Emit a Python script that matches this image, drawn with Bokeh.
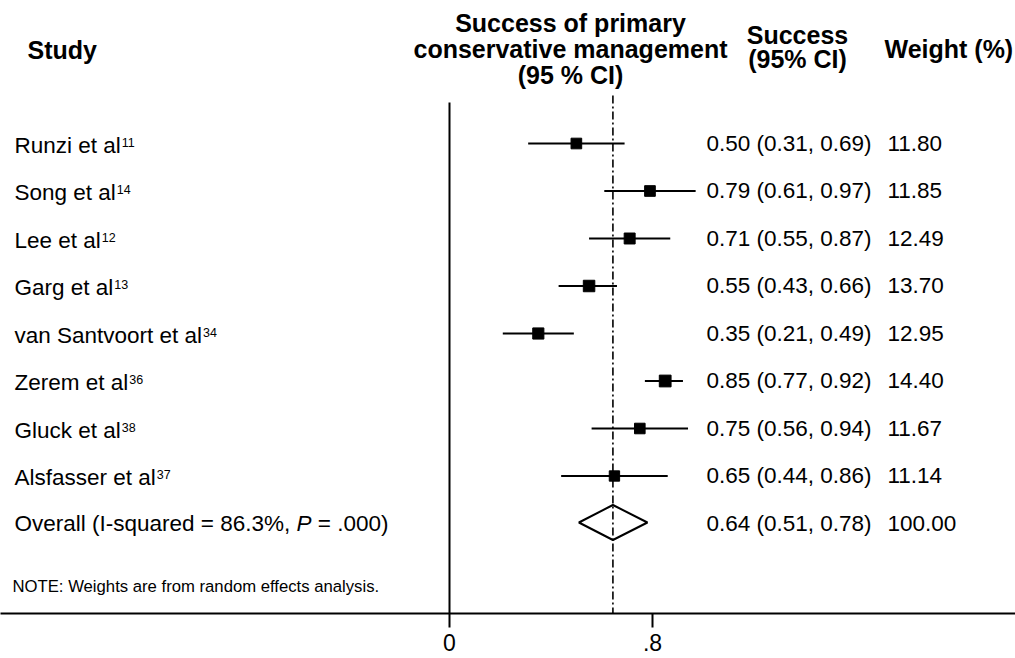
import math
from bokeh.plotting import figure
from bokeh.models import Range1d, FixedTicker, ColumnDataSource
from bokeh.core.properties import value
from bokeh.embed import file_html
from bokeh.resources import INLINE

# ---------------- data ----------------
studies = ["Runzi et al", "Song et al", "Lee et al", "Garg et al",
           "van Santvoort et al", "Zerem et al", "Gluck et al", "Alsfasser et al"]
refs = ["11", "14", "12", "13", "34", "36", "38", "37"]
est = [0.50, 0.79, 0.71, 0.55, 0.35, 0.85, 0.75, 0.65]
ci_lo = [0.31, 0.61, 0.55, 0.43, 0.21, 0.77, 0.56, 0.44]
ci_hi = [0.69, 0.97, 0.87, 0.66, 0.49, 0.92, 0.94, 0.86]
weight = [11.80, 11.85, 12.49, 13.70, 12.95, 14.40, 11.67, 11.14]
overall_est = 0.644
overall_lo = 0.51
overall_hi = 0.78
overall_weight = 100.00
i_squared = 86.3
p_value_text = ".000"
tick_values = [0, 0.8]
tick_labels = ["0", ".8"]

# ---------------- layout helpers ----------------
W, H = 1015, 658
FRAME_H = 613
X0PX, PXU = 449.0, 253.75
FONT = "Liberation Sans"
BODY = 22.5
HEAD = 25


def X(px):
    return (px - X0PX) / PXU


AW = {' ': 278, '!': 278, '(': 333, ')': 333, '%': 889, ',': 278, '-': 333, '.': 278,
      ':': 278, '=': 584}
for d in "0123456789":
    AW[d] = 556
AW.update(dict(zip("ABCDEFGHIJKLMNOPQRSTUVWXYZ",
                   [667, 667, 722, 722, 667, 611, 778, 722, 278, 500, 667, 556, 833, 722,
                    778, 667, 778, 722, 667, 611, 722, 667, 944, 667, 667, 611])))
AW.update(dict(zip("abcdefghijklmnopqrstuvwxyz",
                   [556, 556, 500, 556, 556, 278, 556, 556, 222, 222, 500, 222, 833, 556,
                    556, 556, 556, 333, 500, 278, 556, 500, 722, 500, 500, 500])))


def tw(s, size):
    return sum(AW.get(c, 556) for c in s) * size / 1000.0


row_y = [143.0 + 47.5 * i for i in range(len(studies))]
overall_y = 522.0

p = figure(width=W, height=H, output_backend="svg", toolbar_location=None,
           x_range=Range1d(X(0), X(W)), y_range=Range1d(FRAME_H, 0),
           y_axis_location=None, min_border=0, min_border_left=0, min_border_right=0,
           min_border_top=0, min_border_bottom=H - FRAME_H,
           background_fill_color="white", border_fill_color="white")
p.outline_line_color = None
p.xgrid.grid_line_color = None
p.ygrid.grid_line_color = None

ax = p.xaxis[0]
ax.ticker = FixedTicker(ticks=tick_values)
ax.major_label_overrides = {v: l for v, l in zip(tick_values, tick_labels)}
ax.major_tick_out = 14
ax.major_tick_in = 0
ax.minor_tick_out = 0
ax.minor_tick_in = 0
ax.major_tick_line_width = 2
ax.major_tick_line_color = "black"
ax.axis_line_width = 2
ax.axis_line_color = "black"
ax.major_label_text_font = FONT
ax.major_label_text_font_size = "23px"
ax.major_label_text_color = "black"
ax.major_label_standoff = 6

# null line and overall line
p.segment(x0=[0], y0=[102], x1=[0], y1=[FRAME_H], line_color="black", line_width=2)
p.segment(x0=[overall_est], y0=[95], x1=[overall_est], y1=[FRAME_H],
          line_color="black", line_width=1.6, line_dash="8 3 2 3")

# study CIs and squares
src = ColumnDataSource(dict(est=est, lo=ci_lo, hi=ci_hi, y=row_y,
                            size=[3.1 * math.sqrt(w) for w in weight]))
p.segment(x0="lo", y0="y", x1="hi", y1="y", source=src, line_color="black", line_width=1.8)
p.scatter(x="est", y="y", size="size", marker="square", source=src,
          fill_color="black", line_color="black")

# overall diamond
p.patch(x=[overall_lo, overall_est, overall_hi, overall_est],
        y=[overall_y, overall_y - 17.5, overall_y, overall_y + 17.5],
        fill_color=None, line_color="black", line_width=2)


# texts (ys are target baselines in pixels; small empirical shift for the renderer)
def txt(xs, ys, texts, size, style="normal", align="left"):
    ys = [y - 0.36 * size for y in ys]
    p.text(x=xs, y=ys, text=texts, text_font=value(FONT), text_font_size=value(f"{size}px"),
           text_font_style=style, text_align=align, text_baseline="alphabetic",
           text_color="black")


# study labels + superscripts
txt([X(14)] * len(studies), [y + 10 for y in row_y], studies, BODY)
sup_x = [X(14 + tw(s, BODY) + 1) for s in studies]
txt(sup_x, [y + 3 for y in row_y], refs, 12.5)

# overall label with italic P
part1 = f"Overall (I-squared = {i_squared:.1f}%,"
part3 = f"= {p_value_text})"
xp = 14 + tw(part1 + " ", BODY)
txt([X(14)], [overall_y + 9], [part1], BODY)
txt([X(xp)], [overall_y + 9], ["P"], BODY, style="italic")
txt([X(xp + 0.667 * BODY + tw(" ", BODY))], [overall_y + 9], [part3], BODY)

# right columns
est_txt = [f"{e:.2f} ({l:.2f}, {h:.2f})" for e, l, h in zip(est, ci_lo, ci_hi)]
est_txt.append(f"{overall_est:.2f} ({overall_lo:.2f}, {overall_hi:.2f})")
w_txt = [f"{w:.2f}" for w in weight] + [f"{overall_weight:.2f}"]
ys_all = [y + 8 for y in row_y] + [overall_y + 9]
txt([X(706)] * len(est_txt), ys_all, est_txt, BODY)
txt([X(887)] * len(w_txt), ys_all, w_txt, BODY)

# note
txt([X(12)], [592], ["NOTE: Weights are from random effects analysis."], 16.7)

# headers
txt([X(27)], [58], ["Study"], HEAD, style="bold")
txt([X(570)] * 3, [31, 57, 83],
    ["Success of primary", "conservative management", "(95 % CI)"], HEAD, style="bold", align="center")
txt([X(797)] * 2, [43, 67], ["Success", "(95% CI)"], HEAD, style="bold", align="center")
txt([X(884)], [57], ["Weight (%)"], HEAD, style="bold")

open("out.html", "w").write(file_html(p, INLINE))
